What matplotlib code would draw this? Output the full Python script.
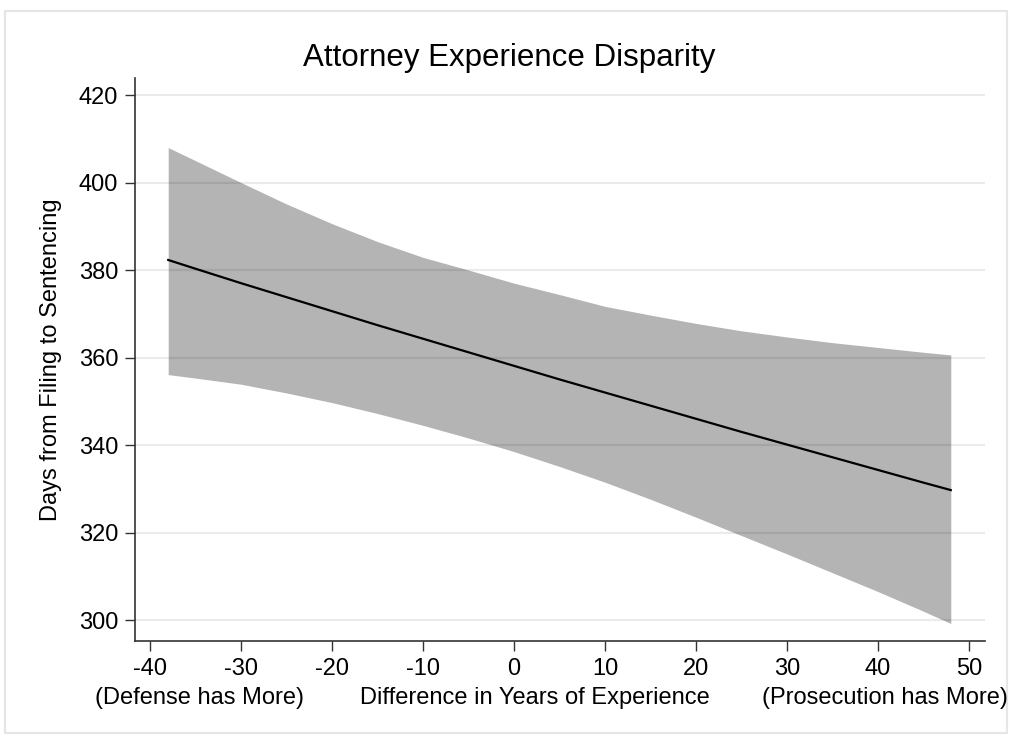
import numpy as np
import matplotlib.pyplot as plt
from matplotlib.patches import Rectangle

plt.rcParams['font.family'] = ['Liberation Sans', 'DejaVu Sans']

# predicted days with 95% CI, by experience difference (prosecution - defense)
diff_years = [-38, -35, -30, -25, -20, -15, -10, -5, 0, 5, 10, 15, 20, 25, 30, 35, 40, 45, 48]
pred_days = [382.3, 380.3, 377.0, 373.8, 370.6, 367.4, 364.3, 361.2, 358.1, 355.0,
             352.0, 349.0, 346.0, 343.0, 340.1, 337.2, 334.3, 331.4, 329.7]
ci_upper = [408.0, 405.0, 400.0, 395.1, 390.6, 386.5, 382.9, 380.0, 377.0, 374.4,
            371.7, 369.7, 367.8, 366.1, 364.7, 363.4, 362.3, 361.2, 360.6]
ci_lower = [356.1, 355.3, 353.9, 351.9, 349.7, 347.2, 344.5, 341.6, 338.5, 335.1,
            331.5, 327.6, 323.5, 319.3, 315.1, 310.8, 306.5, 302.0, 299.2]

y_ticks = [300, 320, 340, 360, 380, 400, 420]
x_ticks = [-40, -30, -20, -10, 0, 10, 20, 30, 40, 50]

W, H = 1012, 737
fig = plt.figure(figsize=(W / 100, H / 100), dpi=100)
fig.patch.set_facecolor('white')

# outer graph frame
fig.patches.append(Rectangle((5 / W, 1 - 733 / H), 1002 / W, 722 / H,
                             transform=fig.transFigure, fill=False,
                             edgecolor='#e6e6e6', linewidth=1.5))

ax = fig.add_axes([135 / W, 1 - 641 / H, 850 / W, 563 / H])
ax.fill_between(diff_years, ci_lower, ci_upper, color='#b4b4b4', linewidth=0, zorder=1)
ax.plot(diff_years, pred_days, color='black', linewidth=1.6, zorder=3)

for yv in y_ticks:
    ax.axhline(yv, color='black', alpha=0.08, linewidth=1.6, zorder=2)

ax.set_xlim(-41.65, 51.76)
ax.set_ylim(295.2, 423.9)
ax.set_xticks(x_ticks)
ax.set_yticks(y_ticks)
ax.set_xticklabels([str(v) for v in x_ticks])
ax.set_yticklabels([str(v) for v in y_ticks])

for side in ['top', 'right']:
    ax.spines[side].set_visible(False)
for side in ['left', 'bottom']:
    ax.spines[side].set_color('#333333')
    ax.spines[side].set_linewidth(1.2)
ax.tick_params(axis='both', direction='out', length=7, width=1.0, color='#333333',
               labelsize=17, labelcolor='black', pad=5)

ax.set_ylabel('Days from Filing to Sentencing', fontsize=17, labelpad=12)

fig.text(509 / W, 1 - 58 / H, 'Attorney Experience Disparity', fontsize=22.5,
         ha='center', va='center')

fig.text(95 / W, 1 - 698 / H, '(Defense has More)', fontsize=17, ha='left', va='center')
fig.text(535 / W, 1 - 698 / H, 'Difference in Years of Experience', fontsize=17,
         ha='center', va='center')
fig.text(1008 / W, 1 - 698 / H, '(Prosecution has More)', fontsize=17, ha='right', va='center')

fig.savefig('out.png', dpi=100)
